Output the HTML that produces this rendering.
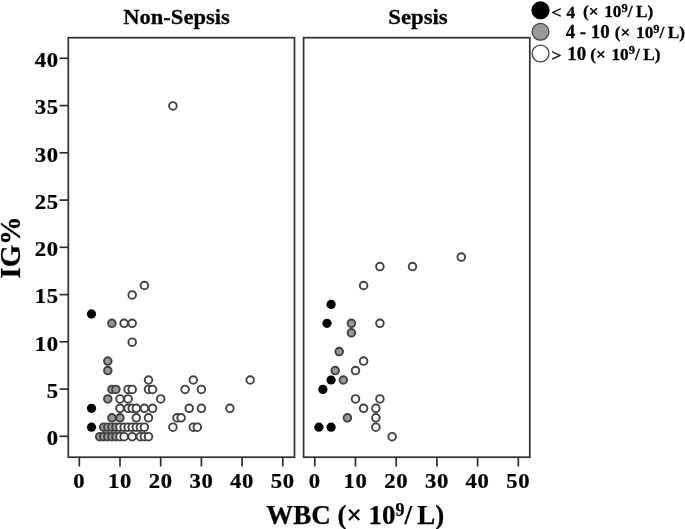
<!DOCTYPE html>
<html><head><meta charset="utf-8"><style>
html,body{margin:0;padding:0;background:#fff;}
svg{display:block;font-family:"Liberation Serif",serif;font-weight:bold;fill:#000;filter:blur(0.45px);}
text{stroke:#000;stroke-width:0.25px;}
.tk{font-size:20.6px;letter-spacing:0.6px;}
.fr{fill:none;stroke:#2e2e2e;stroke-width:1.7;}
.tl line{stroke:#2e2e2e;stroke-width:1.7;}
.lg{font-size:16px;}
.lg2{font-size:18px;}
</style></head><body>
<svg width="685" height="529" viewBox="0 0 685 529">
<rect width="685" height="529" fill="#fff"/>
<rect class="fr" x="68.3" y="37.7" width="226.2" height="419.5"/>
<rect class="fr" x="303.6" y="37.7" width="226.2" height="419.5"/>
<g class="tl">
<line x1="59.5" y1="436.3" x2="68.3" y2="436.3"/>
<line x1="59.5" y1="389.1" x2="68.3" y2="389.1"/>
<line x1="59.5" y1="341.8" x2="68.3" y2="341.8"/>
<line x1="59.5" y1="294.6" x2="68.3" y2="294.6"/>
<line x1="59.5" y1="247.3" x2="68.3" y2="247.3"/>
<line x1="59.5" y1="200.1" x2="68.3" y2="200.1"/>
<line x1="59.5" y1="152.8" x2="68.3" y2="152.8"/>
<line x1="59.5" y1="105.6" x2="68.3" y2="105.6"/>
<line x1="59.5" y1="58.3" x2="68.3" y2="58.3"/>
<line x1="79.3" y1="457.2" x2="79.3" y2="466.5"/>
<line x1="314.8" y1="457.2" x2="314.8" y2="466.5"/>
<line x1="120.0" y1="457.2" x2="120.0" y2="466.5"/>
<line x1="355.5" y1="457.2" x2="355.5" y2="466.5"/>
<line x1="160.7" y1="457.2" x2="160.7" y2="466.5"/>
<line x1="396.2" y1="457.2" x2="396.2" y2="466.5"/>
<line x1="201.4" y1="457.2" x2="201.4" y2="466.5"/>
<line x1="436.9" y1="457.2" x2="436.9" y2="466.5"/>
<line x1="242.1" y1="457.2" x2="242.1" y2="466.5"/>
<line x1="477.6" y1="457.2" x2="477.6" y2="466.5"/>
<line x1="282.8" y1="457.2" x2="282.8" y2="466.5"/>
<line x1="518.3" y1="457.2" x2="518.3" y2="466.5"/>
</g>
<text transform="translate(58.7,445.0) scale(1.1,1)" text-anchor="end" class="tk">0</text>
<text transform="translate(58.7,397.8) scale(1.1,1)" text-anchor="end" class="tk">5</text>
<text transform="translate(58.7,350.5) scale(1.1,1)" text-anchor="end" class="tk">10</text>
<text transform="translate(58.7,303.2) scale(1.1,1)" text-anchor="end" class="tk">15</text>
<text transform="translate(58.7,256.0) scale(1.1,1)" text-anchor="end" class="tk">20</text>
<text transform="translate(58.7,208.8) scale(1.1,1)" text-anchor="end" class="tk">25</text>
<text transform="translate(58.7,161.5) scale(1.1,1)" text-anchor="end" class="tk">30</text>
<text transform="translate(58.7,114.3) scale(1.1,1)" text-anchor="end" class="tk">35</text>
<text transform="translate(58.7,67.0) scale(1.1,1)" text-anchor="end" class="tk">40</text>
<text transform="translate(79.3,487.5) scale(1.1,1)" text-anchor="middle" class="tk">0</text>
<text transform="translate(314.8,487.5) scale(1.1,1)" text-anchor="middle" class="tk">0</text>
<text transform="translate(120.0,487.5) scale(1.1,1)" text-anchor="middle" class="tk">10</text>
<text transform="translate(355.5,487.5) scale(1.1,1)" text-anchor="middle" class="tk">10</text>
<text transform="translate(160.7,487.5) scale(1.1,1)" text-anchor="middle" class="tk">20</text>
<text transform="translate(396.2,487.5) scale(1.1,1)" text-anchor="middle" class="tk">20</text>
<text transform="translate(201.4,487.5) scale(1.1,1)" text-anchor="middle" class="tk">30</text>
<text transform="translate(436.9,487.5) scale(1.1,1)" text-anchor="middle" class="tk">30</text>
<text transform="translate(242.1,487.5) scale(1.1,1)" text-anchor="middle" class="tk">40</text>
<text transform="translate(477.6,487.5) scale(1.1,1)" text-anchor="middle" class="tk">40</text>
<text transform="translate(282.8,487.5) scale(1.1,1)" text-anchor="middle" class="tk">50</text>
<text transform="translate(518.3,487.5) scale(1.1,1)" text-anchor="middle" class="tk">50</text>
<text transform="translate(176.5,23.5) scale(1.04,1)" text-anchor="middle" font-size="21.7">Non-Sepsis</text>
<text transform="translate(418,23.5) scale(1.05,1)" text-anchor="middle" font-size="21.7">Sepsis</text>
<text transform="translate(19.8,278.5) rotate(-90)" font-size="28.7">IG%</text>
<text x="266.2" y="523.8" font-size="27">WBC (× 10<tspan dy="-8" font-size="18">9</tspan><tspan dy="8">/</tspan><tspan dx="-1.5"> L)</tspan></text>
<g>
<circle cx="172.9" cy="105.9" r="3.80" fill="#fff" stroke="#404040" stroke-width="1.9"/>
<circle cx="144.4" cy="285.5" r="3.80" fill="#fff" stroke="#404040" stroke-width="1.9"/>
<circle cx="132.2" cy="294.9" r="3.80" fill="#fff" stroke="#404040" stroke-width="1.9"/>
<circle cx="91.5" cy="313.9" r="4.60" fill="#000"/>
<circle cx="111.9" cy="323.3" r="3.80" fill="#999" stroke="#404040" stroke-width="1.9"/>
<circle cx="124.1" cy="323.3" r="3.80" fill="#fff" stroke="#404040" stroke-width="1.9"/>
<circle cx="132.2" cy="323.3" r="3.80" fill="#fff" stroke="#404040" stroke-width="1.9"/>
<circle cx="132.2" cy="342.2" r="3.80" fill="#fff" stroke="#404040" stroke-width="1.9"/>
<circle cx="107.8" cy="361.1" r="3.80" fill="#999" stroke="#404040" stroke-width="1.9"/>
<circle cx="107.8" cy="370.6" r="3.80" fill="#999" stroke="#404040" stroke-width="1.9"/>
<circle cx="148.5" cy="380.0" r="3.80" fill="#fff" stroke="#404040" stroke-width="1.9"/>
<circle cx="193.3" cy="380.0" r="3.80" fill="#fff" stroke="#404040" stroke-width="1.9"/>
<circle cx="250.2" cy="380.0" r="3.80" fill="#fff" stroke="#404040" stroke-width="1.9"/>
<circle cx="111.9" cy="389.4" r="3.80" fill="#999" stroke="#404040" stroke-width="1.9"/>
<circle cx="115.9" cy="389.4" r="3.80" fill="#999" stroke="#404040" stroke-width="1.9"/>
<circle cx="128.1" cy="389.4" r="3.80" fill="#fff" stroke="#404040" stroke-width="1.9"/>
<circle cx="132.2" cy="389.4" r="3.80" fill="#fff" stroke="#404040" stroke-width="1.9"/>
<circle cx="148.5" cy="389.4" r="3.80" fill="#fff" stroke="#404040" stroke-width="1.9"/>
<circle cx="152.6" cy="389.4" r="3.80" fill="#fff" stroke="#404040" stroke-width="1.9"/>
<circle cx="185.1" cy="389.4" r="3.80" fill="#fff" stroke="#404040" stroke-width="1.9"/>
<circle cx="201.4" cy="389.4" r="3.80" fill="#fff" stroke="#404040" stroke-width="1.9"/>
<circle cx="107.8" cy="398.9" r="3.80" fill="#999" stroke="#404040" stroke-width="1.9"/>
<circle cx="120.0" cy="398.9" r="3.80" fill="#fff" stroke="#404040" stroke-width="1.9"/>
<circle cx="128.1" cy="398.9" r="3.80" fill="#fff" stroke="#404040" stroke-width="1.9"/>
<circle cx="160.7" cy="398.9" r="3.80" fill="#fff" stroke="#404040" stroke-width="1.9"/>
<circle cx="91.5" cy="408.3" r="4.60" fill="#000"/>
<circle cx="120.0" cy="408.3" r="3.80" fill="#fff" stroke="#404040" stroke-width="1.9"/>
<circle cx="128.1" cy="408.3" r="3.80" fill="#fff" stroke="#404040" stroke-width="1.9"/>
<circle cx="132.2" cy="408.3" r="3.80" fill="#fff" stroke="#404040" stroke-width="1.9"/>
<circle cx="136.3" cy="408.3" r="3.80" fill="#fff" stroke="#404040" stroke-width="1.9"/>
<circle cx="144.4" cy="408.3" r="3.80" fill="#fff" stroke="#404040" stroke-width="1.9"/>
<circle cx="152.6" cy="408.3" r="3.80" fill="#fff" stroke="#404040" stroke-width="1.9"/>
<circle cx="189.2" cy="408.3" r="3.80" fill="#fff" stroke="#404040" stroke-width="1.9"/>
<circle cx="201.4" cy="408.3" r="3.80" fill="#fff" stroke="#404040" stroke-width="1.9"/>
<circle cx="229.9" cy="408.3" r="3.80" fill="#fff" stroke="#404040" stroke-width="1.9"/>
<circle cx="111.9" cy="417.8" r="3.80" fill="#999" stroke="#404040" stroke-width="1.9"/>
<circle cx="120.0" cy="417.8" r="3.80" fill="#999" stroke="#404040" stroke-width="1.9"/>
<circle cx="136.3" cy="417.8" r="3.80" fill="#fff" stroke="#404040" stroke-width="1.9"/>
<circle cx="148.5" cy="417.8" r="3.80" fill="#fff" stroke="#404040" stroke-width="1.9"/>
<circle cx="177.0" cy="417.8" r="3.80" fill="#fff" stroke="#404040" stroke-width="1.9"/>
<circle cx="181.1" cy="417.8" r="3.80" fill="#fff" stroke="#404040" stroke-width="1.9"/>
<circle cx="91.5" cy="427.2" r="4.60" fill="#000"/>
<circle cx="103.7" cy="427.2" r="3.80" fill="#999" stroke="#404040" stroke-width="1.9"/>
<circle cx="107.8" cy="427.2" r="3.80" fill="#999" stroke="#404040" stroke-width="1.9"/>
<circle cx="111.9" cy="427.2" r="3.80" fill="#999" stroke="#404040" stroke-width="1.9"/>
<circle cx="115.9" cy="427.2" r="3.80" fill="#999" stroke="#404040" stroke-width="1.9"/>
<circle cx="120.0" cy="427.2" r="3.80" fill="#fff" stroke="#404040" stroke-width="1.9"/>
<circle cx="124.1" cy="427.2" r="3.80" fill="#fff" stroke="#404040" stroke-width="1.9"/>
<circle cx="128.1" cy="427.2" r="3.80" fill="#fff" stroke="#404040" stroke-width="1.9"/>
<circle cx="132.2" cy="427.2" r="3.80" fill="#fff" stroke="#404040" stroke-width="1.9"/>
<circle cx="136.3" cy="427.2" r="3.80" fill="#fff" stroke="#404040" stroke-width="1.9"/>
<circle cx="140.3" cy="427.2" r="3.80" fill="#fff" stroke="#404040" stroke-width="1.9"/>
<circle cx="144.4" cy="427.2" r="3.80" fill="#fff" stroke="#404040" stroke-width="1.9"/>
<circle cx="172.9" cy="427.2" r="3.80" fill="#fff" stroke="#404040" stroke-width="1.9"/>
<circle cx="193.3" cy="427.2" r="3.80" fill="#fff" stroke="#404040" stroke-width="1.9"/>
<circle cx="197.3" cy="427.2" r="3.80" fill="#fff" stroke="#404040" stroke-width="1.9"/>
<circle cx="99.7" cy="436.7" r="3.80" fill="#999" stroke="#404040" stroke-width="1.9"/>
<circle cx="103.7" cy="436.7" r="3.80" fill="#999" stroke="#404040" stroke-width="1.9"/>
<circle cx="107.8" cy="436.7" r="3.80" fill="#999" stroke="#404040" stroke-width="1.9"/>
<circle cx="111.9" cy="436.7" r="3.80" fill="#999" stroke="#404040" stroke-width="1.9"/>
<circle cx="115.9" cy="436.7" r="3.80" fill="#999" stroke="#404040" stroke-width="1.9"/>
<circle cx="120.0" cy="436.7" r="3.80" fill="#fff" stroke="#404040" stroke-width="1.9"/>
<circle cx="124.1" cy="436.7" r="3.80" fill="#fff" stroke="#404040" stroke-width="1.9"/>
<circle cx="132.2" cy="436.7" r="3.80" fill="#fff" stroke="#404040" stroke-width="1.9"/>
<circle cx="140.3" cy="436.7" r="3.80" fill="#fff" stroke="#404040" stroke-width="1.9"/>
<circle cx="144.4" cy="436.7" r="3.80" fill="#fff" stroke="#404040" stroke-width="1.9"/>
<circle cx="148.5" cy="436.7" r="3.80" fill="#fff" stroke="#404040" stroke-width="1.9"/>
<circle cx="461.3" cy="257.1" r="3.80" fill="#fff" stroke="#404040" stroke-width="1.9"/>
<circle cx="412.5" cy="266.6" r="3.80" fill="#fff" stroke="#404040" stroke-width="1.9"/>
<circle cx="379.9" cy="266.6" r="3.80" fill="#fff" stroke="#404040" stroke-width="1.9"/>
<circle cx="363.6" cy="285.5" r="3.80" fill="#fff" stroke="#404040" stroke-width="1.9"/>
<circle cx="331.1" cy="304.4" r="4.60" fill="#000"/>
<circle cx="327.0" cy="323.3" r="4.60" fill="#000"/>
<circle cx="351.4" cy="323.3" r="3.80" fill="#999" stroke="#404040" stroke-width="1.9"/>
<circle cx="351.4" cy="332.8" r="3.80" fill="#999" stroke="#404040" stroke-width="1.9"/>
<circle cx="379.9" cy="323.3" r="3.80" fill="#fff" stroke="#404040" stroke-width="1.9"/>
<circle cx="339.2" cy="351.6" r="3.80" fill="#999" stroke="#404040" stroke-width="1.9"/>
<circle cx="363.6" cy="361.1" r="3.80" fill="#fff" stroke="#404040" stroke-width="1.9"/>
<circle cx="335.2" cy="370.6" r="3.80" fill="#999" stroke="#404040" stroke-width="1.9"/>
<circle cx="355.5" cy="370.6" r="3.80" fill="#fff" stroke="#404040" stroke-width="1.9"/>
<circle cx="331.1" cy="380.0" r="4.60" fill="#000"/>
<circle cx="343.3" cy="380.0" r="3.80" fill="#999" stroke="#404040" stroke-width="1.9"/>
<circle cx="322.9" cy="389.4" r="4.60" fill="#000"/>
<circle cx="355.5" cy="398.9" r="3.80" fill="#fff" stroke="#404040" stroke-width="1.9"/>
<circle cx="379.9" cy="398.9" r="3.80" fill="#fff" stroke="#404040" stroke-width="1.9"/>
<circle cx="363.6" cy="408.3" r="3.80" fill="#fff" stroke="#404040" stroke-width="1.9"/>
<circle cx="375.9" cy="408.3" r="3.80" fill="#fff" stroke="#404040" stroke-width="1.9"/>
<circle cx="347.4" cy="417.8" r="3.80" fill="#999" stroke="#404040" stroke-width="1.9"/>
<circle cx="375.9" cy="417.8" r="3.80" fill="#fff" stroke="#404040" stroke-width="1.9"/>
<circle cx="318.9" cy="427.2" r="4.60" fill="#000"/>
<circle cx="331.1" cy="427.2" r="4.60" fill="#000"/>
<circle cx="375.9" cy="427.2" r="3.80" fill="#fff" stroke="#404040" stroke-width="1.9"/>
<circle cx="392.1" cy="436.7" r="3.80" fill="#fff" stroke="#404040" stroke-width="1.9"/>
</g>
<circle cx="540.5" cy="10.4" r="9.1" fill="#000"/>
<circle cx="540.5" cy="31.8" r="8.4" fill="#999" stroke="#444" stroke-width="1.3"/>
<circle cx="540.5" cy="53.5" r="8.4" fill="#fff" stroke="#444" stroke-width="1.3"/>
<text class="lg" transform="translate(551.3,18.2) scale(1.14,1.1)">&lt;</text>
<text class="lg" transform="translate(566.5,17.9) scale(1.08,1)">4</text>
<text class="lg" transform="translate(583.0,17.3) scale(1.08,1)">(×<tspan dx="1.2"> 10</tspan><tspan dy="-5.2" font-size="11.5">9</tspan><tspan dy="5.2">/</tspan><tspan dx="-0.8"> L)</tspan></text>
<text class="lg2" transform="translate(565.7,38.2) scale(1.05,1)">4 - 10</text>
<text class="lg" transform="translate(614.8,38.2) scale(1.08,1)">(×<tspan dx="1.2"> 10</tspan><tspan dy="-5.2" font-size="11.5">9</tspan><tspan dy="5.2">/</tspan><tspan dx="-0.8"> L)</tspan></text>
<text class="lg" transform="translate(551.3,60.6) scale(1.14,1.1)">&gt;</text>
<text class="lg2" transform="translate(567.2,59.8) scale(1.05,1)">10</text>
<text class="lg" transform="translate(590.2,59.6) scale(1.08,1)">(×<tspan dx="1.2"> 10</tspan><tspan dy="-5.2" font-size="11.5">9</tspan><tspan dy="5.2">/</tspan><tspan dx="-0.8"> L)</tspan></text>
</svg>
</body></html>
